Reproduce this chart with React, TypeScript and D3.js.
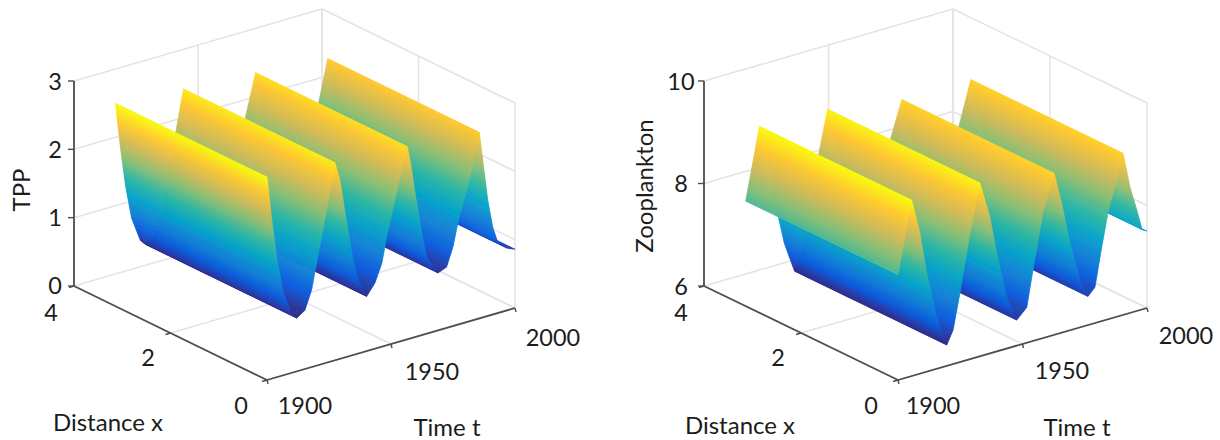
import React, { useEffect, useRef } from 'react'
import * as d3 from 'd3'

// values, surface does not change along x
const tppTime = [0, 2, 4, 6.5, 10, 12, 15.3, 18, 20, 24, 27.4, 29.4, 31.5, 34.7, 36.7, 40.2, 43.5, 46.3, 48.8, 53.6, 56.5, 57.7, 59.7, 62.4, 64.4, 69, 72.4, 75, 77, 81.9, 85.6, 87, 89, 91, 93, 96.8, 100]
const tppValues = [2.97, 2.3, 1.73, 1.22, 0.86, 0.78, 0.86, 1.13, 1.5, 2.23, 2.89, 2.62, 2.11, 1.39, 1.08, 0.8, 0.96, 1.22, 1.68, 2.39, 2.82, 2.61, 2.11, 1.49, 1.12, 0.84, 0.89, 1.16, 1.49, 2.11, 2.72, 2.3, 1.7, 1.28, 1.04, 0.91, 0.86]

const zooTime = [0, 5.5, 8.8, 11.5, 15.5, 19.6, 22.1, 24.9, 28.9, 32.9, 36.9, 39.6, 43.7, 47.7, 51.7, 54.2, 58.2, 62.7, 65.7, 69.1, 73.1, 76.3, 79.1, 81.8, 84.3, 90.4, 93.2, 95.9, 98, 100]
const zooValues = [8.05, 9.43, 8.74, 7.93, 7.01, 6.41, 6.66, 7.35, 8.46, 9.38, 8.66, 7.92, 7.0, 6.5, 6.69, 7.38, 8.45, 9.15, 8.53, 7.7, 6.92, 6.56, 6.7, 7.44, 8.07, 9.15, 8.45, 7.97, 7.56, 7.5]

const tTicks = [1900, 1950, 2000]
const xTicks = [0, 2, 4]
const tppTicks = [0, 1, 2, 3]
const zooTicks = [6, 8, 10]

const surfaceXEnd = 3.14
const parula = ['#352A87', '#0F5CDD', '#1481D6', '#06A4CA', '#2EB7A4', '#87BF77', '#D1BB59', '#FEC832', '#F9FB0E']

const gridColor = '#e3e3e3'
const axisColor = '#4d4d4d'
const textColor = '#1c1c1c'
const font = 'Lato, sans-serif'

const panels = [
  {
    time: tppTime, values: tppValues, zTicks: tppTicks, zDomain: [0, 3],
    front: [267, 380], left: [74, 286], right: [515, 308], height: 205,
    zLabel: 'TPP', zLabelPos: [20, 190],
    zTickX: 55, zTickFix: [285, 217, 149, 81],
    xLabels: [[241, 405], [148, 357], [51, 312]],
    tLabels: [[305, 405], [432, 371], [553, 337]],
    xTitle: [108, 421], tTitle: [447, 426],
  },
  {
    time: zooTime, values: zooValues, zTicks: zooTicks, zDomain: [6, 10],
    front: [898, 380], left: [704, 286], right: [1147, 308], height: 205,
    zLabel: 'Zooplankton', zLabelPos: [643, 186],
    zTickX: 681, zTickFix: [286, 183, 81],
    xLabels: [[871, 405], [778, 357], [681, 312]],
    tLabels: [[933, 405], [1062, 370], [1186, 335]],
    xTitle: [740, 424], tTitle: [1077, 426],
  },
]

function drawPanel(svg, p) {
  const g = svg.append('g')

  const sx = d3.scaleLinear().domain([0, 4]).range([0, 1])
  const st = d3.scaleLinear().domain([1900, 2000]).range([0, 1])
  const sz = d3.scaleLinear().domain(p.zDomain).range([0, p.height])
  const [zMin, zMax] = d3.extent(p.values)
  const color = d3.scaleLinear()
    .domain(parula.map((_, i) => zMin + ((zMax - zMin) * i) / (parula.length - 1)))
    .range(parula)
    .interpolate(d3.interpolateRgb)

  const project = (x, t, z) => [
    p.front[0] + (p.left[0] - p.front[0]) * sx(x) + (p.right[0] - p.front[0]) * st(t),
    p.front[1] + (p.left[1] - p.front[1]) * sx(x) + (p.right[1] - p.front[1]) * st(t) - sz(z),
  ]
  const line = d3.line()
  const [z0, z1] = p.zDomain

  const seg = (a, b, stroke, w) =>
    g.append('path').attr('d', line([a, b])).attr('stroke', stroke).attr('stroke-width', w).attr('fill', 'none')

  // box and grid
  p.zTicks.forEach((z) => {
    seg(project(4, 1900, z), project(4, 2000, z), gridColor, 1.5)
    seg(project(4, 2000, z), project(0, 2000, z), gridColor, 1.5)
  })
  tTicks.forEach((t) => {
    seg(project(4, t, z0), project(4, t, z1), gridColor, 1.5)
    if (t > 1900) seg(project(0, t, z0), project(4, t, z0), gridColor, 1.5)
  })
  xTicks.forEach((x) => {
    seg(project(x, 2000, z0), project(x, 2000, z1), gridColor, 1.5)
    if (x < 4) seg(project(x, 1900, z0), project(x, 2000, z0), gridColor, 1.5)
  })

  // surface, painted from the far end of time to the near end
  const surface = g.append('g').attr('filter', 'url(#soft)')
  for (let i = p.time.length - 2; i >= 0; i--) {
    const t0 = 1900 + p.time[i]
    const t1 = 1900 + p.time[i + 1]
    const v0 = p.values[i]
    const v1 = p.values[i + 1]
    const n = Math.ceil((Math.abs(v1 - v0) / (zMax - zMin)) * 48) + 1
    for (let j = n - 1; j >= 0; j--) {
      const a = j / n
      const b = (j + 1) / n
      const ta = t0 + (t1 - t0) * a
      const tb = t0 + (t1 - t0) * b
      const za = v0 + (v1 - v0) * a
      const zb = v0 + (v1 - v0) * b
      const c = color((za + zb) / 2)
      surface.append('path')
        .attr('d', line([
          project(0, ta, za), project(0, tb, zb),
          project(surfaceXEnd, tb, zb), project(surfaceXEnd, ta, za),
        ]) + 'Z')
        .attr('fill', c)
        .attr('stroke', c)
        .attr('stroke-width', 0.7)
    }
  }

  // axes
  seg(project(4, 1900, z0), project(4, 1900, z1), axisColor, 1.8)
  seg(project(4, 1900, z0), project(0, 1900, z0), axisColor, 1.8)
  seg(project(0, 1900, z0), project(0, 2000, z0), axisColor, 1.8)
  p.zTicks.forEach((z) => {
    const a = project(4, 1900, z)
    seg(a, [a[0] - 6, a[1]], axisColor, 1.4)
  })
  xTicks.forEach((x) => {
    const a = project(x, 1900, z0)
    seg(a, [a[0] - 5, a[1] + 1.5], axisColor, 1.4)
  })
  tTicks.forEach((t) => {
    const a = project(0, t, z0)
    seg(a, [a[0] + 1, a[1] + 4], axisColor, 1.4)
  })

  const label = (text, pos, size = 23.5) =>
    g.append('text')
      .attr('x', pos[0]).attr('y', pos[1])
      .attr('text-anchor', 'middle').attr('dominant-baseline', 'central')
      .attr('font-family', font).attr('font-size', size).attr('fill', textColor)
      .text(text)

  p.zTicks.forEach((z, i) => label(String(z), [p.zTickX, p.zTickFix[i]]))
  xTicks.forEach((x, i) => label(String(x), p.xLabels[i]))
  tTicks.forEach((t, i) => label(String(t), p.tLabels[i]))
  label('Distance x', p.xTitle, 24)
  label('Time t', p.tTitle, 24)
  label(p.zLabel, [0, 0], 24)
    .attr('transform', `translate(${p.zLabelPos[0]},${p.zLabelPos[1]}) rotate(-90)`)
    .attr('x', 0).attr('y', 0)
}

export default function App() {
  const svgRef = useRef(null)

  useEffect(() => {
    const svg = d3.select(svgRef.current)
    svg.selectAll('*').remove()
    svg.append('defs').append('filter').attr('id', 'soft')
      .attr('x', '-5%').attr('y', '-5%').attr('width', '110%').attr('height', '110%')
      .append('feGaussianBlur').attr('stdDeviation', 0.6)
    panels.forEach((p) => drawPanel(svg, p))
  }, [])

  return (
    <svg
      ref={svgRef}
      width="1220"
      height="440"
      style={{ position: 'absolute', left: 0, top: 0, background: '#fff' }}
    ></svg>
  )
}
